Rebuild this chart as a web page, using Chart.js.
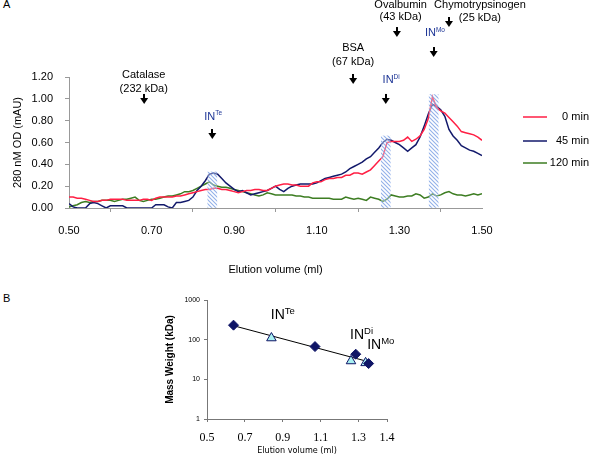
<!DOCTYPE html>
<html>
<head>
<meta charset="utf-8">
<script src="https://cdn.jsdelivr.net/npm/chart.js@4/dist/chart.umd.min.js"></script>
<style>
    html, body { margin: 0; padding: 0; background: #fff; }
    body { width: 592px; height: 458px; position: relative; overflow: hidden; font-family: Arial, 'Liberation Sans', sans-serif; }
    #wrapA { position: absolute; left: 0; top: 0; width: 592px; height: 290px; }
    #wrapB { position: absolute; left: 0; top: 290px; width: 592px; height: 168px; }
    .tag { position: absolute; font-size: 11px; color: #000; }
</style>
</head>
<body>
<div class="tag" style="left:3px;top:-2px">A</div>
<div class="tag" style="left:3px;top:292px">B</div>
<div id="wrapA"><canvas id="chartA"></canvas></div>
<div id="wrapB"><canvas id="chartB"></canvas></div>
<script>
// ---- Panel A: elution profiles ----
const elution = [
    0.50, 0.51, 0.52, 0.53, 0.54, 0.55, 0.56, 0.57, 0.58, 0.59,
    0.60, 0.61, 0.62, 0.63, 0.64, 0.65, 0.66, 0.67, 0.68, 0.69,
    0.70, 0.71, 0.72, 0.73, 0.74, 0.75, 0.76, 0.77, 0.78, 0.79,
    0.80, 0.81, 0.82, 0.83, 0.84, 0.85, 0.86, 0.87, 0.88, 0.89,
    0.90, 0.91, 0.92, 0.93, 0.94, 0.95, 0.96, 0.97, 0.98, 0.99,
    1.00, 1.01, 1.02, 1.03, 1.04, 1.05, 1.06, 1.07, 1.08, 1.09,
    1.10, 1.11, 1.12, 1.13, 1.14, 1.15, 1.16, 1.17, 1.18, 1.19,
    1.20, 1.21, 1.22, 1.23, 1.24, 1.25, 1.26, 1.27, 1.28, 1.29,
    1.30, 1.31, 1.32, 1.33, 1.34, 1.35, 1.36, 1.37, 1.38, 1.39,
    1.40, 1.41, 1.42, 1.43, 1.44, 1.45, 1.46, 1.47, 1.48, 1.49, 1.50
];
const od0min = [
    0.10, 0.10, 0.09, 0.09, 0.08, 0.07, 0.06, 0.06, 0.07, 0.07,
    0.08, 0.08, 0.08, 0.08, 0.07, 0.07, 0.07, 0.07, 0.08, 0.08,
    0.07, 0.09, 0.10, 0.10, 0.10, 0.10, 0.11, 0.11, 0.12, 0.13,
    0.14, 0.15, 0.16, 0.17, 0.17, 0.18, 0.18, 0.17, 0.17, 0.16,
    0.15, 0.14, 0.15, 0.16, 0.16, 0.17, 0.17, 0.16, 0.16, 0.18,
    0.20, 0.21, 0.22, 0.22, 0.21, 0.21, 0.20, 0.20, 0.20, 0.23,
    0.24, 0.24, 0.26, 0.27, 0.27, 0.28, 0.28, 0.30, 0.30, 0.32,
    0.32, 0.31, 0.33, 0.35, 0.39, 0.43, 0.47, 0.60, 0.61, 0.61,
    0.61, 0.62, 0.65, 0.61, 0.63, 0.66, 0.72, 0.82, 1.02, 0.92,
    0.89, 0.87, 0.83, 0.79, 0.75, 0.70, 0.69, 0.68, 0.67, 0.65, 0.62
];
const od45min = [
    0.04, 0.01, 0.00, 0.00, 0.00, 0.04, 0.05, 0.04, 0.02, 0.00,
    0.02, 0.02, 0.02, 0.02, 0.00, 0.00, 0.00, 0.00, 0.00, 0.00,
    0.00, 0.03, 0.03, 0.03, 0.01, 0.00, 0.05, 0.05, 0.06, 0.07,
    0.10, 0.16, 0.20, 0.25, 0.31, 0.32, 0.31, 0.27, 0.23, 0.20,
    0.17, 0.15, 0.16, 0.14, 0.12, 0.13, 0.14, 0.15, 0.16, 0.18,
    0.20, 0.17, 0.15, 0.18, 0.20, 0.21, 0.22, 0.22, 0.22, 0.22,
    0.23, 0.25, 0.27, 0.28, 0.29, 0.30, 0.31, 0.33, 0.36, 0.38,
    0.40, 0.42, 0.45, 0.47, 0.51, 0.55, 0.60, 0.63, 0.62, 0.60,
    0.58, 0.55, 0.52, 0.55, 0.58, 0.65, 0.75, 0.86, 0.95, 0.93,
    0.90, 0.84, 0.72, 0.66, 0.62, 0.57, 0.55, 0.53, 0.52, 0.50, 0.48
];
const od120min = [
    0.01, 0.02, 0.03, 0.05, 0.06, 0.05, 0.06, 0.06, 0.07, 0.07,
    0.07, 0.06, 0.07, 0.08, 0.08, 0.09, 0.10, 0.07, 0.06, 0.07,
    0.08, 0.08, 0.09, 0.10, 0.11, 0.11, 0.12, 0.13, 0.15, 0.15,
    0.16, 0.18, 0.20, 0.22, 0.24, 0.21, 0.20, 0.19, 0.19, 0.18,
    0.17, 0.16, 0.15, 0.14, 0.13, 0.12, 0.11, 0.12, 0.14, 0.13,
    0.12, 0.12, 0.12, 0.12, 0.12, 0.11, 0.11, 0.10, 0.10, 0.09,
    0.09, 0.09, 0.09, 0.09, 0.08, 0.08, 0.08, 0.10, 0.09, 0.08,
    0.09, 0.08, 0.07, 0.10, 0.09, 0.08, 0.06, 0.08, 0.12, 0.11,
    0.10, 0.10, 0.11, 0.11, 0.13, 0.12, 0.09, 0.10, 0.13, 0.11,
    0.12, 0.14, 0.15, 0.13, 0.12, 0.12, 0.11, 0.12, 0.13, 0.12, 0.13
];
const seriesLabels = ['0 min', '45 min', '120 min'];
const seriesColors = ['#ff1f44', '#12196b', '#3d7d22'];

// hatched bands under the IN peaks
const peakNames = ['Te', 'Di', 'Mo'];
const peakElution = [0.847, 1.267, 1.383];
const peakHeight = [0.33, 0.66, 1.04];

// calibration standards
const standardNames = ['Catalase', 'BSA', 'Ovalbumin', 'Chymotrypsinogen'];
const standardMass = [232, 67, 43, 25];
const standardElutionA = [0.682, 1.188, 1.294, 1.42];

// ---- Panel B: calibration ----
const standardElutionB = [0.64, 1.07, 1.285, 1.353];
const oligomerElutionB = [0.84, 1.26, 1.337];
const oligomerMass = [110, 29, 26];
const fitElution = [0.64, 1.35];
const fitMass = [225, 28];
const xTicksB = [0.5, 0.7, 0.9, 1.1, 1.3, 1.45];
const xTickLabelsB = ['0.5', '0.7', '0.9', '1.1', '1.3', '1.4'];
const yTicksB = [1, 10, 100, 1000];

Chart.defaults.font.family = "Arial, 'Liberation Sans', sans-serif";
Chart.defaults.color = '#000';

// annotation layout for panel A (data units)
const standardLabels = [
    { labelX: 0.681, line1: 1.218, line2: 1.090, tip: 0.953 },
    { labelX: 1.188, line1: 1.466, line2: 1.337, tip: 1.136 },
    { labelX: 1.303, line1: 1.859, line2: 1.750, tip: 1.566 },
    { labelX: 1.495, line1: 1.859, line2: 1.740, tip: 1.658 }
];
const peakLabels = [
    { labelX: 0.849, labelY: 0.834, tip: 0.632 },
    { labelX: 1.28, labelY: 1.172, tip: 0.953 },
    { labelX: 1.386, labelY: 1.603, tip: 1.383 }
];

function drawArrow(ctx, x, tipY) {
    ctx.fillStyle = '#000';
    ctx.fillRect(Math.round(x) - 1, tipY - 10, 2, 5);
    ctx.beginPath();
    ctx.moveTo(x - 4, tipY - 6);
    ctx.lineTo(x + 4, tipY - 6);
    ctx.lineTo(x, tipY);
    ctx.closePath();
    ctx.fill();
}

function drawSup(ctx, base, sup, cx, cy, size, supSize, color) {
    ctx.font = size + 'px Arial';
    const w1 = ctx.measureText(base).width;
    ctx.font = supSize + 'px Arial';
    const w2 = ctx.measureText(sup).width;
    const x = cx - (w1 + w2) / 2;
    ctx.fillStyle = color;
    ctx.textAlign = 'left';
    ctx.textBaseline = 'middle';
    ctx.font = size + 'px Arial';
    ctx.fillText(base, x, cy);
    ctx.font = supSize + 'px Arial';
    ctx.fillText(sup, x + w1, cy - size * 0.3);
}

const annotationsA = {
    id: 'annotationsA',
    afterDraw(chart) {
        const ctx = chart.ctx;
        const xs = chart.scales.x, ys = chart.scales.y;
        ctx.save();
        standardNames.forEach((name, i) => {
            const a = standardLabels[i];
            const lx = xs.getPixelForValue(a.labelX);
            ctx.font = '11px Arial';
            ctx.fillStyle = '#000';
            ctx.textAlign = 'center';
            ctx.textBaseline = 'middle';
            ctx.fillText(name, lx, ys.getPixelForValue(a.line1));
            ctx.fillText('(' + standardMass[i] + ' kDa)', lx, ys.getPixelForValue(a.line2));
            drawArrow(ctx, xs.getPixelForValue(standardElutionA[i]), ys.getPixelForValue(a.tip));
        });
        peakNames.forEach((sup, i) => {
            const a = peakLabels[i];
            drawSup(ctx, 'IN', sup, xs.getPixelForValue(a.labelX), ys.getPixelForValue(a.labelY), 11, 6.5, '#1d3596');
            drawArrow(ctx, xs.getPixelForValue(peakElution[i]), ys.getPixelForValue(a.tip));
        });

        // legend on the right
        const rows = [117, 141, 163];
        seriesLabels.forEach((label, i) => {
            ctx.strokeStyle = seriesColors[i];
            ctx.lineWidth = 1.5;
            ctx.beginPath();
            ctx.moveTo(523, rows[i]);
            ctx.lineTo(547, rows[i]);
            ctx.stroke();
            ctx.font = '11px Arial';
            ctx.fillStyle = '#000';
            ctx.textAlign = 'right';
            ctx.textBaseline = 'middle';
            ctx.fillText(label, 589, rows[i]);
        });
        ctx.restore();
    }
};

const ctxA = document.getElementById('chartA').getContext('2d');

// diagonal hatch pattern for the peak bands
const tile = document.createElement('canvas');
tile.width = 4;
tile.height = 4;
const tg = tile.getContext('2d');
tg.fillStyle = 'rgba(255,255,255,0.35)';
tg.fillRect(0, 0, 4, 4);
tg.strokeStyle = 'rgba(120,158,228,0.8)';
tg.lineWidth = 1.1;
tg.beginPath();
tg.moveTo(-1, -1); tg.lineTo(5, 5);
tg.moveTo(-1, 3); tg.lineTo(1, 5);
tg.moveTo(3, -1); tg.lineTo(5, 1);
tg.stroke();
const hatch = ctxA.createPattern(tile, 'repeat');

const lineSets = [od0min, od45min, od120min].map((vals, i) => ({
    type: 'line',
    label: seriesLabels[i],
    data: elution.map((x, j) => ({ x: x, y: vals[j] })),
    borderColor: seriesColors[i],
    borderWidth: 1.5,
    pointRadius: 0,
    tension: 0,
    order: 1
}));

new Chart(ctxA, {
    type: 'line',
    data: {
        datasets: [{
            type: 'bar',
            label: 'bands',
            data: peakElution.map((x, i) => ({ x: x, y: peakHeight[i] })),
            backgroundColor: hatch,
            barThickness: 9,
            order: 0
        }].concat(lineSets)
    },
    options: {
        responsive: true,
        maintainAspectRatio: false,
        animation: false,
        devicePixelRatio: 1,
        layout: { padding: { left: 0, right: 110, top: 77, bottom: 0 } },
        plugins: { legend: { display: false }, tooltip: { enabled: false } },
        scales: {
            x: {
                type: 'linear',
                min: 0.5,
                max: 1.5,
                offset: false,
                afterFit: s => { s.height = 82; },
                grid: { drawOnChartArea: false, tickLength: 4, color: '#999' },
                border: { color: '#999' },
                ticks: { stepSize: 0.2, padding: 12, font: { size: 11 }, callback: v => Number(v).toFixed(2) },
                title: { display: true, text: 'Elution volume (ml)', font: { size: 11 }, padding: { top: 0, bottom: 13 } }
            },
            y: {
                min: 0,
                max: 1.2,
                afterFit: s => { s.width = 69; },
                grid: { drawOnChartArea: false, tickLength: 4, color: '#999' },
                border: { color: '#999' },
                ticks: { stepSize: 0.2, padding: 12, font: { size: 11 }, callback: v => Number(v).toFixed(2) },
                title: { display: true, text: '280 nM OD (mAU)', font: { size: 11 }, padding: { top: 11, bottom: 0 } }
            }
        }
    },
    plugins: [annotationsA]
});

// ---- Panel B ----
const labelsB = [
    { x: 0.90, y: 415 },
    { x: 1.316, y: 130 },
    { x: 1.417, y: 73 }
];

const annotationsB = {
    id: 'annotationsB',
    afterDraw(chart) {
        const ctx = chart.ctx;
        ctx.save();
        peakNames.forEach((sup, i) => {
            drawSup(ctx, 'IN', sup, chart.scales.x.getPixelForValue(labelsB[i].x),
                chart.scales.y.getPixelForValue(labelsB[i].y), 14, 9.5, '#000');
        });
        ctx.restore();
    }
};

new Chart(document.getElementById('chartB'), {
    type: 'scatter',
    data: {
        datasets: [
            {
                label: 'Standards',
                data: standardElutionB.map((x, i) => ({ x: x, y: standardMass[i] })),
                pointStyle: 'rectRot',
                pointRadius: 5,
                backgroundColor: '#0f1566',
                borderColor: '#0f1566',
                order: 0
            },
            {
                label: 'IN',
                data: oligomerElutionB.map((x, i) => ({ x: x, y: oligomerMass[i] })),
                pointStyle: 'triangle',
                pointRadius: 5.5,
                backgroundColor: '#a8f0f2',
                borderColor: '#0f1566',
                borderWidth: 1,
                order: 0
            },
            {
                label: 'fit',
                data: fitElution.map((x, i) => ({ x: x, y: fitMass[i] })),
                showLine: true,
                borderColor: '#000',
                borderWidth: 1,
                pointRadius: 0,
                order: 1
            }
        ]
    },
    options: {
        responsive: true,
        maintainAspectRatio: false,
        animation: false,
        devicePixelRatio: 1,
        layout: { padding: { left: 150, right: 205, top: 10, bottom: 0 } },
        plugins: { legend: { display: false }, tooltip: { enabled: false } },
        scales: {
            x: {
                type: 'linear',
                min: 0.5,
                max: 1.45,
                afterBuildTicks: s => { s.ticks = xTicksB.map(v => ({ value: v })); },
                afterFit: s => { s.height = 39; },
                grid: { drawOnChartArea: false, tickLength: 3, color: '#777' },
                border: { color: '#777' },
                ticks: {
                    padding: 9,
                    font: { family: "'Liberation Serif', 'Times New Roman', serif", size: 12 },
                    callback: (v, i) => xTickLabelsB[i]
                },
                title: {
                    display: true,
                    text: 'Elution volume (ml)',
                    font: { family: "'Liberation Sans Narrow', 'DejaVu Sans Condensed', Arial", size: 9 },
                    padding: { top: 0, bottom: 2 }
                }
            },
            y: {
                type: 'logarithmic',
                min: 1,
                max: 1000,
                afterBuildTicks: s => { s.ticks = yTicksB.map(v => ({ value: v })); },
                afterFit: s => { s.width = 57; },
                grid: { drawOnChartArea: false, tickLength: 3, color: '#777' },
                border: { color: '#777' },
                ticks: { padding: 4, font: { size: 7 }, callback: v => String(v) },
                title: {
                    display: true,
                    text: 'Mass Weight (kDa)',
                    font: { size: 10, weight: 'bold' },
                    padding: { top: 14, bottom: 0 }
                }
            }
        }
    },
    plugins: [annotationsB]
});
</script>
</body>
</html>
